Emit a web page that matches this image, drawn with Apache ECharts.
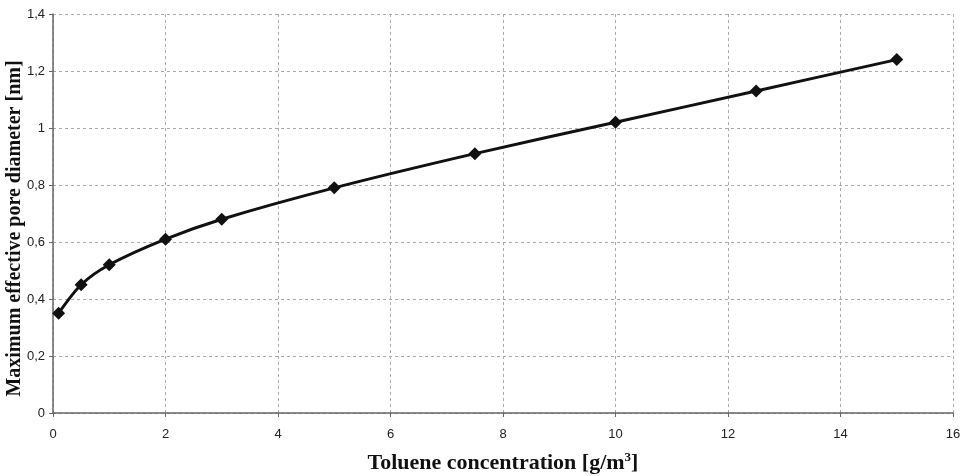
<!DOCTYPE html>
<html>
<head>
<meta charset="utf-8">
<script src="https://cdn.jsdelivr.net/npm/echarts@6/dist/echarts.min.js"></script>
<style>
  html, body { margin: 0; padding: 0; background: #fff; }
  #chart { width: 965px; height: 476px; }
</style>
</head>
<body>
<div id="chart"></div>
<script>
// toluene concentration [g/m3] and max effective pore diameter [nm]
const concentration = [0.1, 0.5, 1, 2, 3, 5, 7.5, 10, 12.5, 15]
const poreDiameter = [0.35, 0.45, 0.52, 0.61, 0.68, 0.79, 0.91, 1.02, 1.13, 1.24]

const xTicks = { min: 0, max: 16, step: 2 }
const yTicks = { min: 0, max: 1.4, step: 0.2 }

const points = concentration.map((c, i) => [c, poreDiameter[i]])

const serif = '"Liberation Serif", "DejaVu Serif", serif'
const sans = '"Liberation Sans", Arial, sans-serif'

const chart = echarts.init(document.getElementById('chart'))

chart.setOption({
  animation: false,
  backgroundColor: '#fff',
  grid: { left: 53, right: 12, top: 14, bottom: 63, outerBoundsMode: 'none' },
  xAxis: {
    type: 'value',
    min: xTicks.min,
    max: xTicks.max,
    interval: xTicks.step,
    name: 'Toluene concentration [g/m{sup|3}]',
    nameLocation: 'middle',
    nameGap: 38,
    nameMoveOverlap: false,
    nameTextStyle: {
      fontFamily: serif, fontWeight: 'bold', fontSize: 22, color: '#111',
      rich: { sup: { fontFamily: serif, fontWeight: 'bold', fontSize: 13, color: '#111', verticalAlign: 'bottom', padding: [0, 0, 12, 0] } }
    },
    axisLine: { lineStyle: { color: '#666', width: 1.5 } },
    axisTick: { show: true, length: 4, lineStyle: { color: '#666' } },
    axisLabel: { fontFamily: sans, fontSize: 13, color: '#222', margin: 15 },
    splitLine: { show: true, lineStyle: { color: '#aaa', type: [3, 3], width: 1 } }
  },
  yAxis: {
    type: 'value',
    min: yTicks.min,
    max: yTicks.max,
    interval: yTicks.step,
    name: 'Maximum effective pore diameter [nm]',
    nameLocation: 'middle',
    nameGap: 28,
    nameMoveOverlap: false,
    nameTextStyle: { fontFamily: serif, fontWeight: 'bold', fontSize: 20, color: '#111', padding: [0, 30, 0, 0] },
    axisLine: { show: true, lineStyle: { color: '#666', width: 1.5 } },
    axisTick: { show: true, length: 4, lineStyle: { color: '#666' } },
    axisLabel: {
      fontFamily: sans, fontSize: 13, color: '#222', margin: 8,
      formatter: v => String(Math.round(v * 10) / 10).replace('.', ',')
    },
    splitLine: { show: true, lineStyle: { color: '#aaa', type: [3, 3], width: 1 } }
  },
  series: [
    {
      type: 'line',
      data: points,
      smooth: 0.3,
      symbol: 'diamond',
      symbolSize: 13,
      lineStyle: { color: '#111', width: 3 },
      itemStyle: { color: '#111' }
    }
  ]
})
</script>
</body>
</html>
